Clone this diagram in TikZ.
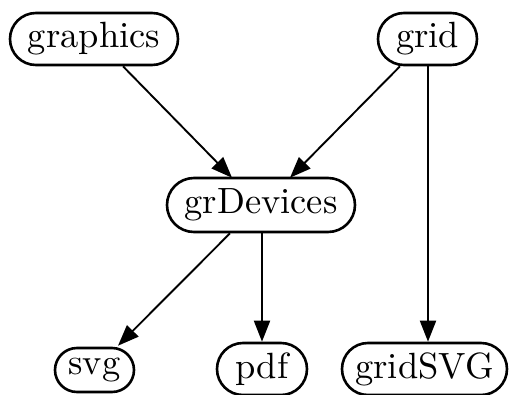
\documentclass[tikz,border=0pt]{standalone}
\usepackage{fontspec}
\setmainfont{lmroman10-regular.otf}
\usetikzlibrary{arrows.meta}
\begin{document}
\begin{tikzpicture}[x=1pt,y=-1pt,
  pkg/.style={draw,line width=2.6pt,rectangle,inner sep=0pt,
    font=\fontsize{36.5}{40}\selectfont},
  dep/.style={line width=1.9pt,-{Triangle[length=21pt,width=16pt]}}]
\useasboundingbox (0,0) rectangle (509,394);
% packages
\node[pkg,minimum width=168pt,minimum height=52pt,rounded corners=26pt] (graphics) at (94,39) {graphics};
\node[pkg,minimum width=99pt,minimum height=52pt,rounded corners=26pt] (grid) at (427.5,39) {grid};
\node[pkg,minimum width=188pt,minimum height=54pt,rounded corners=27pt] (grDevices) at (261,205) {grDevices};
\node[pkg,minimum width=79pt,minimum height=44pt,rounded corners=22pt] (svg) at (94.5,370) {svg};
\node[pkg,minimum width=90pt,minimum height=52pt,rounded corners=26pt] (pdf) at (262,369) {pdf};
\node[pkg,minimum width=165pt,minimum height=52pt,rounded corners=26pt] (gridSVG) at (424.5,369) {gridSVG};
% dependencies
\draw[dep] ([xshift=29pt]graphics.south) -- ([xshift=-29pt,yshift=-1pt]grDevices.north);
\draw[dep] ([xshift=-27.5pt]grid.south) -- ([xshift=29pt,yshift=-1pt]grDevices.north);
\draw[dep] ([xshift=0.5pt]grid.south) -- ([xshift=3.5pt]gridSVG.north);
\draw[dep] ([xshift=-31pt]grDevices.south) -- ([xshift=23.5pt,yshift=1pt]svg.north);
\draw[dep] ([xshift=1pt]grDevices.south) -- (pdf.north);
\end{tikzpicture}
\end{document}
